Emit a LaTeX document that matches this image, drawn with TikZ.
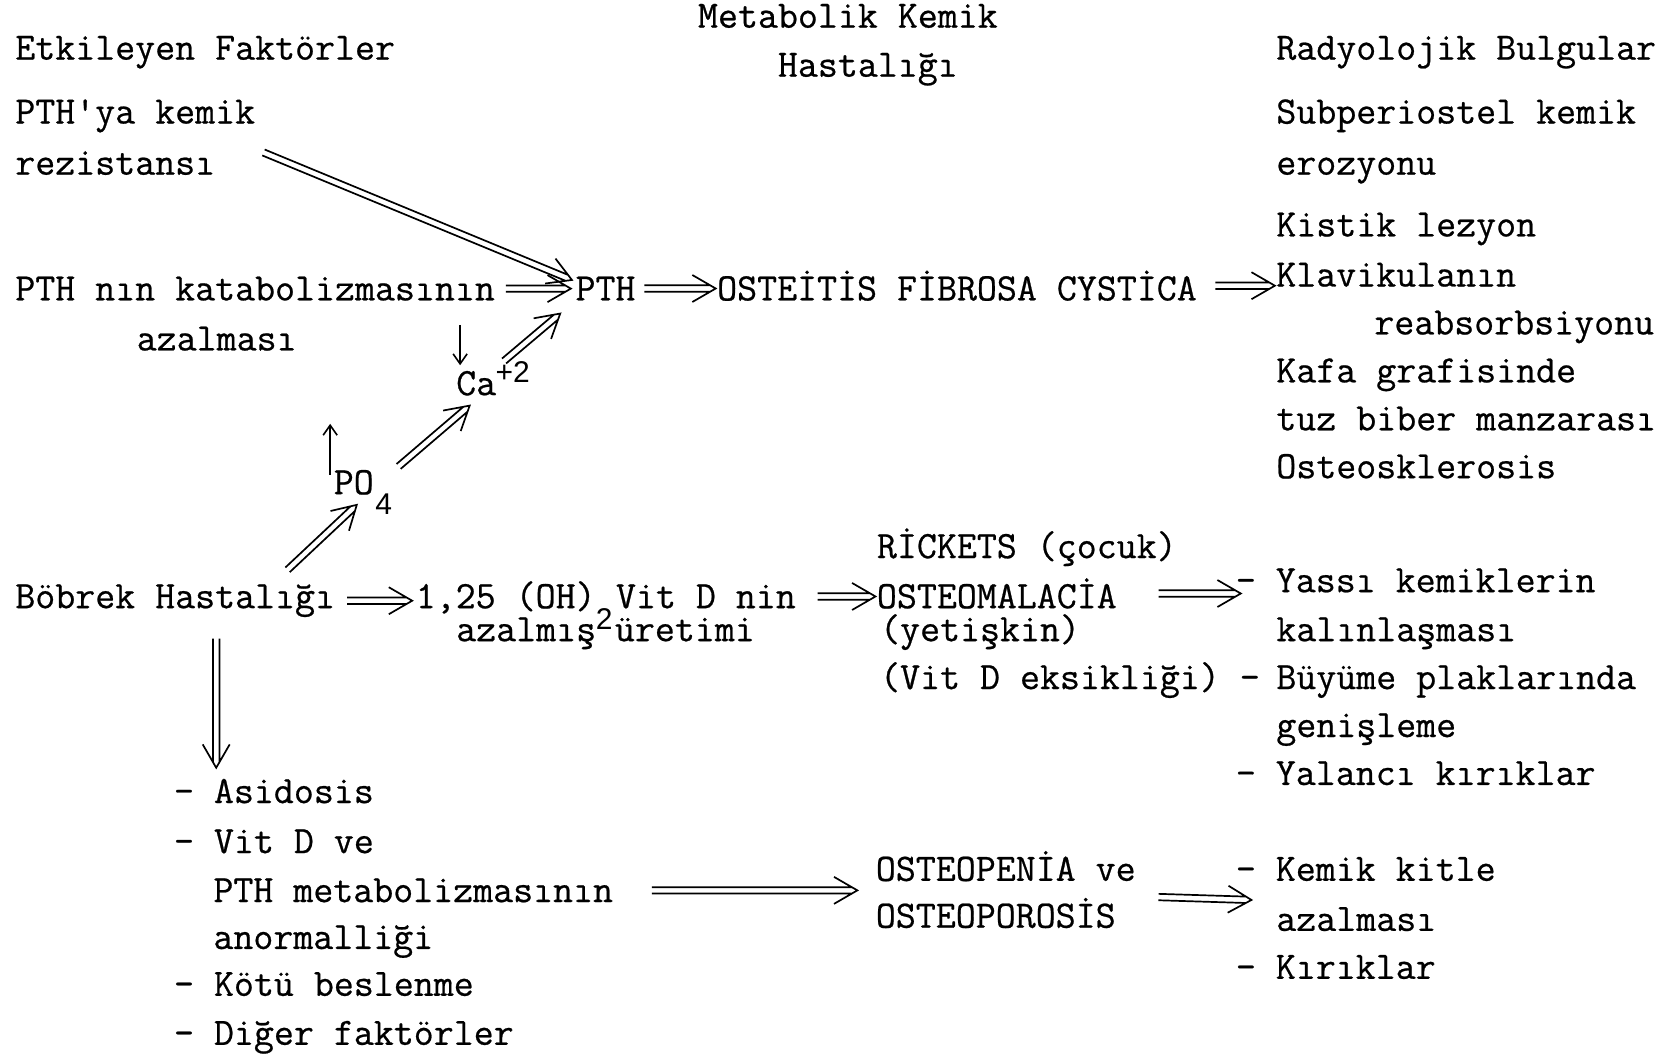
\documentclass[tikz,border=0pt]{standalone}
\usepackage{fontspec}
\setmainfont{Latin Modern Mono}[FakeBold=0.6]
\newfontfamily\idxfont{Liberation Sans}
\usetikzlibrary{arrows.meta,calc}

\begin{document}
\begin{tikzpicture}[x=0.5325pt,y=-0.5325pt]
	\tikzset{txt/.style={anchor=base west,inner sep=0pt,font=\fontsize{19.4}{24}\selectfont},
		idx/.style={anchor=base west,inner sep=0pt,font=\idxfont\fontsize{15}{18}\selectfont},
		imp/.style={line width=0.85pt,to path={
			let \p1=(\tikztostart), \p2=(\tikztotarget), \n1={atan2(\y2-\y1,\x2-\x1)} in
			($(\p1)+(\n1+90:1.6pt)$) -- ($(\p2)+(\n1+90:1.6pt)+(\n1:-2.8pt)$)
			($(\p1)+(\n1-90:1.6pt)$) -- ($(\p2)+(\n1-90:1.6pt)+(\n1:-2.8pt)$)
			($(\p2)+(\n1+150:13.5pt)$) -- (\p2) -- ($(\p2)+(\n1-150:13.5pt)$)}},
		sarr/.style={line width=0.8pt,-{Straight Barb[length=5pt,width=7pt]}}}
	\useasboundingbox (0,0) rectangle (1568,990);
	% headings
	\node[txt] (hdrL) at (14,56) {Etkileyen Faktörler};
	\node[txt] (hdrM1) at (655,26) {Metabolik Kemik};
	\node[txt] (hdrM2) at (730,72) {Hastalığı};
	\node[txt] (hdrR) at (1198,56) {Radyolojik Bulgular};
	% upper row
	\node[txt] (pthk) at (14,116) {PTH\textquotesingle ya kemik};
	\node[txt] (rez) at (14,164) {rezistansı};
	\node[txt] (kat) at (14,282) {PTH nın katabolizmasının};
	\node[txt] (azal) at (128,329) {azalması};
	\node[txt] (pth) at (540,282) {PTH};
	\node[txt] (ost) at (673,282) {OSTEİTİS FİBROSA CYSTİCA};
	\node[txt] (sub) at (1198,116) {Subperiostel kemik};
	\node[txt] (ero) at (1198,164) {erozyonu};
	\node[txt] (kis) at (1198,222) {Kistik lezyon};
	\node[txt] (klav) at (1198,269) {Klavikulanın};
	\node[txt] (reab) at (1290,314) {reabsorbsiyonu};
	\node[txt] (kafa) at (1198,359) {Kafa grafisinde};
	\node[txt] (tuz) at (1198,404) {tuz biber manzarası};
	\node[txt] (osk) at (1198,449) {Osteosklerosis};
	\node[txt] (ca) at (428,371) {Ca};
	\node[idx] (ca2) at (465,359) {+2};
	\node[txt] (po) at (313,464) {PO};
	\node[idx] (po4) at (352,483) {4};
	% middle row
	\node[txt] (bob) at (14,571) {Böbrek Hastalığı};
	\node[txt] (vita) at (390,571) {1,25 (OH)};
	\node[idx] (oh2) at (559,591) {2};
	\node[txt] (vitb) at (578,571) {Vit D nin};
	\node[txt] (vit2a) at (428,602) {azalmış};
	\node[txt] (vit2b) at (577,602) {üretimi};
	\node[txt] (rick) at (823,524) {RİCKETS (çocuk)};
	\node[txt] (osm) at (823,571) {OSTEOMALACİA};
	\node[txt] (yet) at (826,602) {(yetişkin)};
	\node[txt] (vdef) at (826,647) {(Vit D eksikliği) -};
	\node[txt] (yas) at (1160,556) {- Yassı kemiklerin};
	\node[txt] (kal) at (1198,602) {kalınlaşması};
	\node[txt] (buy) at (1198,647) {Büyüme plaklarında};
	\node[txt] (gen) at (1198,692) {genişleme};
	\node[txt] (yal) at (1160,737) {- Yalancı kırıklar};
	% lower row
	\node[txt] (asi) at (163,754) {- Asidosis};
	\node[txt] (vdve) at (163,801) {- Vit D ve};
	\node[txt] (pthm) at (200,847) {PTH metabolizmasının};
	\node[txt] (anor) at (200,891) {anormalliği};
	\node[txt] (kotu) at (163,935) {- Kötü beslenme};
	\node[txt] (dig) at (163,981) {- Diğer faktörler};
	\node[txt] (open) at (822,827) {OSTEOPENİA ve};
	\node[txt] (opor) at (822,871) {OSTEOPOROSİS};
	\node[txt] (kem) at (1160,827) {- Kemik kitle};
	\node[txt] (azm) at (1198,874) {azalması};
	\node[txt] (kir) at (1160,919) {- Kırıklar};
	% arrows
	\draw[imp] ($(rez.east)+(45,-10)$) to ($(pth.west)+(-3,-8)$);
	\draw[imp] ($(kat.east)+(10,0)$) to ($(kat.east -| pth.west)+(-4,0)$);
	\draw[imp] ($(pth.east)+(8,0)$) to ($(pth.east -| ost.west)+(-1,0)$);
	\draw[imp] ($(ost.east)+(17,0)$) to ($(ost.east -| klav.west)+(-1,0)$);
	\draw[imp] ($(ca.north east)+(7,-9)$) to ($(pth.south west)+(-14,12)$);
	\draw[imp] ($(po.north east)+(23,-3)$) to ($(ca.south west)+(13,9)$);
	\draw[imp] ($(bob.base west)+(256,-36)$) to ($(po.base west)+(22,10)$);
	\draw[imp] ($(bob.east)+(11,0)$) to ($(bob.east -| vita.west)+(-3,0)$);
	\draw[imp] ($(vitb.east)+(20,0)$) to ($(vitb.east -| osm.west)+(-1,0)$);
	\draw[imp] ($(osm.east)+(39,0)$) to ($(osm.east -| yas.west)+(5,0)$);
	\draw[imp] ($(bob.south west)+(189,20)$) to ($(asi.north west)+(40,-10)$);
	\draw[imp] ($(pthm.east)+(36,0)$) to ($(pthm.east -| open.west)+(-17,0)$);
	\draw[imp] ($(open.east)+(21,29)$) to ($(kem.west)+(15,29)$);
	\draw[sarr] ($(ca.north west)+(4,-43)$) -- ($(ca.north west)+(4,-5)$);
	\draw[sarr] ($(po.north west)+(-3,5)$) -- ($(po.north west)+(-3,-43)$);
\end{tikzpicture}
\end{document}
